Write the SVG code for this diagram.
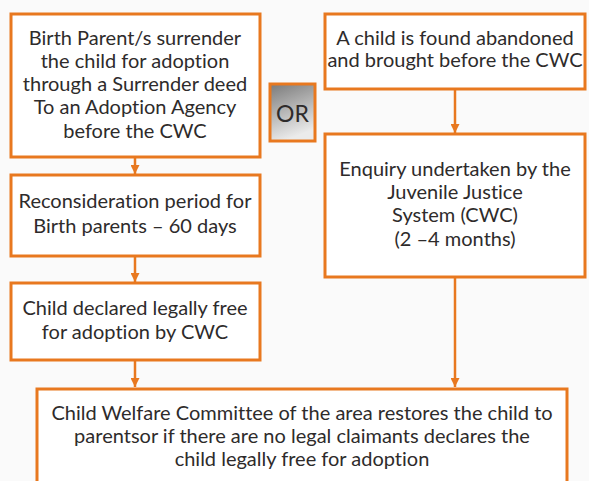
<svg xmlns="http://www.w3.org/2000/svg" width="589" height="481" viewBox="0 0 589 481">
  <style>
    .box { fill: #ffffff; stroke: #e8781f; stroke-width: 3; }
    .t { font-family: Lato, "Open Sans", "Liberation Sans", sans-serif; font-size: 20px; fill: #2e2b2b; text-anchor: middle; font-variant-ligatures: none; font-feature-settings: "liga" 0; }
    .conn { stroke: #e8781f; stroke-width: 2.5; fill: none; }
  </style>
  <defs>
    <marker id="arrow" markerUnits="userSpaceOnUse" markerWidth="10" markerHeight="9" refX="9" refY="4.5" orient="auto">
      <path d="M0,0 L9,4.5 L0,9 Z" fill="#e8781f"/>
    </marker>
    <linearGradient id="orGrad" x1="0" y1="0" x2="0.3" y2="1">
      <stop offset="0" stop-color="#7a7a7a"/>
      <stop offset="1" stop-color="#ebebeb"/>
    </linearGradient>
  </defs>
  <rect x="0" y="0" width="589" height="481" fill="#fafafa"/>

  <g id="connectors">
    <line class="conn" x1="135" y1="158" x2="135" y2="174" marker-end="url(#arrow)"/>
    <line class="conn" x1="135" y1="257" x2="135" y2="282" marker-end="url(#arrow)"/>
    <line class="conn" x1="135" y1="361" x2="135" y2="387" marker-end="url(#arrow)"/>
    <line class="conn" x1="455" y1="90" x2="455" y2="133" marker-end="url(#arrow)"/>
    <line class="conn" x1="455" y1="278" x2="455" y2="387" marker-end="url(#arrow)"/>
  </g>

  <g id="surrender">
    <rect class="box" x="11" y="14" width="249" height="143"/>
    <text class="t" x="135" y="45">Birth Parent/s surrender</text>
    <text class="t" x="135" y="68">the child for adoption</text>
    <text class="t" x="135" y="91">through a Surrender deed</text>
    <text class="t" x="135" y="114">To an Adoption Agency</text>
    <text class="t" x="135" y="138">before the CWC</text>
  </g>

  <g id="or">
    <rect x="270" y="84" width="45" height="57" fill="url(#orGrad)" stroke="#e8781f" stroke-width="3"/>
    <text class="t" x="292.5" y="122" style="font-size:23px">OR</text>
  </g>

  <g id="abandoned">
    <rect class="box" x="325" y="14" width="260" height="75"/>
    <text class="t" x="455" y="45">A child is found abandoned</text>
    <text class="t" x="455" y="67">and brought before the CWC</text>
  </g>

  <g id="reconsideration">
    <rect class="box" x="11" y="175" width="249" height="81"/>
    <text class="t" x="135" y="208">Reconsideration period for</text>
    <text class="t" x="135" y="233">Birth parents – 60 days</text>
  </g>

  <g id="enquiry">
    <rect class="box" x="325" y="134" width="260" height="143"/>
    <text class="t" x="455" y="176">Enquiry undertaken by the</text>
    <text class="t" x="455" y="199">Juvenile Justice</text>
    <text class="t" x="455" y="222">System (CWC)</text>
    <text class="t" x="455" y="246">(2 –4 months)</text>
  </g>

  <g id="declared">
    <rect class="box" x="11" y="283" width="249" height="77"/>
    <text class="t" x="135" y="315">Child declared legally free</text>
    <text class="t" x="135" y="339">for adoption by CWC</text>
  </g>

  <g id="cwc">
    <rect class="box" x="37" y="389" width="530" height="110"/>
    <text class="t" x="302" y="420">Child Welfare Committee of the area restores the child to</text>
    <text class="t" x="302" y="443">parentsor if there are no legal claimants declares the</text>
    <text class="t" x="302" y="466">child legally free for adoption</text>
  </g>
</svg>
